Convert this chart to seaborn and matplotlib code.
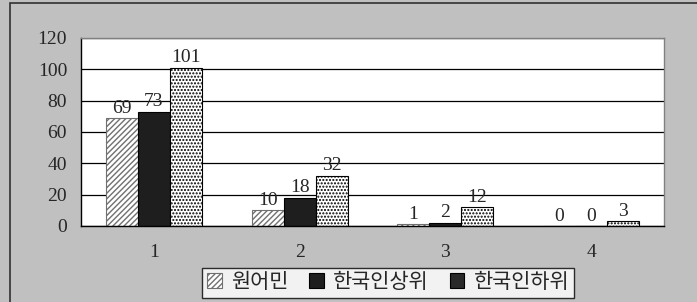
import numpy as np
import matplotlib.pyplot as plt
import pandas as pd
import seaborn as sns
from matplotlib.patches import Rectangle

sns.set_theme(style='white')
plt.rcParams['font.family'] = ['Liberation Serif', 'Noto Sans CJK KR']

# data
categories = ['1', '2', '3', '4']
groups = ['원어민', '한국인상위', '한국인하위']
native = [69, 10, 1, 0]
kor_high = [73, 18, 2, 0]
kor_low = [101, 32, 12, 3]

df = pd.DataFrame({
    'cat': categories * 3,
    'group': np.repeat(groups, len(categories)),
    'value': native + kor_high + kor_low,
})

bg = '#c0c0c0'
fig = plt.figure(figsize=(6.97, 3.02), dpi=100, facecolor=bg)
fig.patches.append(Rectangle((10 / 697, -0.1), 1.0, 1 - 3 / 302 + 0.1,
                             transform=fig.transFigure, fill=False,
                             edgecolor='#303030', linewidth=1.2))
ax = fig.add_axes([81 / 697, 1 - 226 / 302, 583 / 697, 188 / 302])

sns.barplot(data=df, x='cat', y='value', hue='group', order=categories,
            hue_order=groups, width=0.66, ax=ax, legend=False, errorbar=None)

styles = [
    dict(facecolor='white', edgecolor='#707070', hatch='//////'),
    dict(facecolor='#1e1e1e', edgecolor='black', hatch=None),
    dict(facecolor='white', edgecolor='black', hatch='.....'),
]
for cont, st in zip(ax.containers, styles):
    for bar in cont:
        bar.set_facecolor(st['facecolor'])
        bar.set_edgecolor(st['edgecolor'])
        bar.set_hatch(st['hatch'])
        bar.set_linewidth(0.8)
    ax.bar_label(cont, fmt='%d', padding=1, fontsize=14)

ax.set_ylim(0, 120)
ax.set_yticks(range(0, 121, 20))
ax.set_xlim(-0.5, 3.5)
ax.yaxis.grid(True, color='black', linewidth=0.9)
ax.set_axisbelow(True)
ax.set_xlabel('')
ax.set_ylabel('')
ax.set_facecolor('white')
ax.tick_params(axis='y', length=0, labelsize=14, pad=10)
ax.tick_params(axis='x', length=0, labelsize=14, pad=13)
ax.set_xticks([0.5, 1.5, 2.5, 3.5], minor=True)
ax.tick_params(axis='x', which='minor', direction='in', length=5, color='black')
for s in ['left', 'bottom']:
    ax.spines[s].set_color('black')
    ax.spines[s].set_linewidth(1.0)
for s in ['top', 'right']:
    ax.spines[s].set_color('#808080')
    ax.spines[s].set_linewidth(1.0)

# legend markers as in the source: hatched gray, then two dark squares
leg_styles = [styles[0], styles[1], dict(facecolor='#2a2a2a', edgecolor='black', hatch=None)]
handles = [Rectangle((0, 0), 1, 1, linewidth=0.8, **st) for st in leg_styles]
leg = fig.legend(handles, groups, loc='center', bbox_to_anchor=(388 / 697, 1 - 283 / 302),
                 ncol=3, frameon=True, fancybox=False, fontsize=15,
                 handlelength=0.7, handleheight=0.7, handletextpad=0.45,
                 columnspacing=1.0, borderpad=0.25)
leg.get_frame().set_edgecolor('black')
leg.get_frame().set_linewidth(1.0)
leg.get_frame().set_facecolor('white')

fig.savefig('out.png', dpi=100, facecolor=bg)
